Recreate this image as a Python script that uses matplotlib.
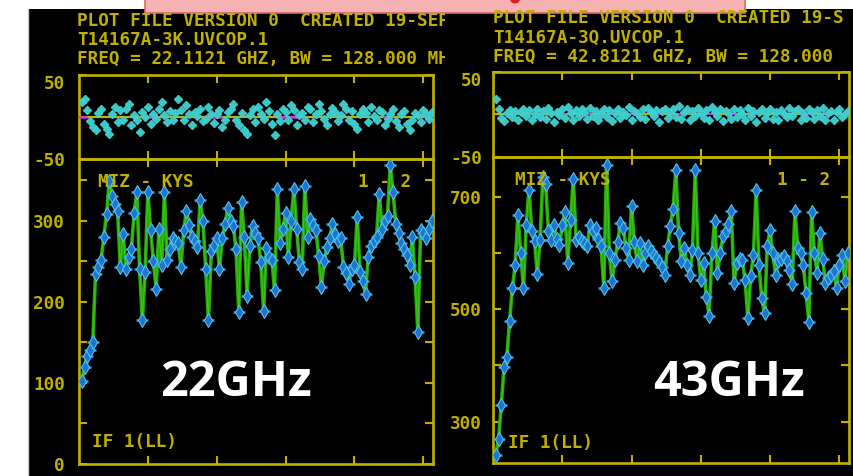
import matplotlib
matplotlib.use("Agg")
import matplotlib.pyplot as plt
from matplotlib.patches import Rectangle, Ellipse
from matplotlib.transforms import IdentityTransform, Bbox

W, H = 854, 476

# ---------------- data ----------------
channels = list(range(1, 129))
x_ticks = [25, 50, 75, 100, 125]

amp_22 = [
    102, 120, 133, 140, 150, 234, 243, 251, 280, 308, 349, 330, 320, 312, 243, 284,
    241, 255, 265, 309, 335, 240, 177, 237, 335, 288, 250, 216, 290, 245, 335, 251,
    265, 278, 275, 272, 243, 288, 312, 295, 280, 275, 268, 325, 300, 240, 177, 262,
    270, 278, 241, 278, 296, 315, 300, 294, 265, 188, 323, 280, 207, 269, 293, 285,
    278, 249, 189, 266, 255, 251, 214, 339, 272, 290, 309, 255, 300, 339, 290, 249,
    241, 343, 280, 302, 295, 288, 257, 218, 250, 268, 278, 296, 284, 275, 278, 243,
    235, 222, 241, 245, 305, 237, 225, 210, 255, 269, 275, 280, 333, 290, 300, 306,
    368, 335, 296, 285, 272, 265, 258, 245, 280, 230, 163, 288, 285, 278, 290, 300,
]
phase_22 = [
    18, 22, 8, -5, -12, -15, 5, 10, -8, -14, -20, 3, 12, -6, 8, -3,
    9, 15, -10, 2, -4, -18, 6, 0, 12, -8, 4, -2, 10, 18, 2, -6,
    7, -3, 5, 22, 8, -4, 14, 3, -10, 6, 1, 9, -5, -2, 12, 4,
    -7, 3, 8, -12, -4, 6, 10, 15, -3, -9, 5, -15, -20, 2, 9, -6,
    12, 4, -2, 18, 7, -8, -22, 3, -5, 10, 6, -3, 14, 8, -10, 2,
    5, -4, 12, 9, -6, 3, 15, 7, -2, -9, 4, 11, 6, -5, 2, 16,
    9, -3, 7, -8, -14, 3, 10, 5, -6, 12, 1, -4, 8, 6, -10, -2,
    4, 9, -5, -12, 3, 7, -8, -15, -3, 5, 2, -6, 8, 4, -2, 6,
]
model_22 = [1, 27, 50, 74, 77, 80, 112, 127]

amp_43 = [
    241, 268, 330, 397, 415, 480, 538, 579, 669, 600, 538, 651, 714, 640, 622, 563,
    624, 736, 723, 640, 624, 651, 625, 615, 650, 673, 583, 660, 732, 624, 630, 622,
    618, 613, 651, 640, 646, 625, 613, 538, 758, 600, 550, 588, 620, 655, 646, 610,
    588, 685, 620, 586, 619, 579, 600, 613, 605, 597, 592, 585, 575, 561, 613, 649,
    680, 749, 637, 586, 610, 580, 561, 606, 749, 600, 552, 583, 523, 489, 600, 658,
    565, 600, 631, 640, 653, 676, 547, 583, 590, 588, 552, 484, 560, 597, 713, 579,
    520, 493, 613, 642, 600, 561, 586, 590, 595, 586, 570, 545, 676, 610, 600, 579,
    530, 478, 673, 600, 565, 637, 590, 547, 556, 562, 568, 538, 580, 597, 550, 601,
]
phase_43 = [
    18, 6, -4, -8, 2, 5, -3, 4, -6, 3, 7, -2, 5, -7, 1, 6,
    -3, 4, -5, 8, 2, -9, 3, -1, 6, -4, 9, 2, -6, 5, -2, 7,
    3, -5, 8, -2, 4, -7, 1, 6, -3, 5, -8, 2, 7, -4, 3, -1,
    9, -6, 4, 2, -3, 7, -5, 8, 3, -2, 5, -9, 4, 6, -4, 2,
    7, -3, 10, -5, 3, 6, -7, 4, -2, 8, 2, -4, 5, -6, 9, 3,
    -2, 6, -8, 4, 2, -5, 7, -3, 5, 1, -6, 8, -2, 4, -9, 3,
    6, -4, 2, 7, -5, 3, -7, 5, 1, -3, 8, -2, 4, 6, -6, 2,
    -4, 7, 3, -5, 5, -2, 8, -6, 2, 4, -7, 3, 6, -3, 1, 4,
]
model_43 = [1, 2, 128]

header_22 = ["PLOT FILE VERSION 0  CREATED 19-SEP",
             "T14167A-3K.UVCOP.1",
             "FREQ = 22.1121 GHZ, BW = 128.000 MHZ"]
header_43 = ["PLOT FILE VERSION 0  CREATED 19-S",
             "T14167A-3Q.UVCOP.1",
             "FREQ = 42.8121 GHZ, BW = 128.000"]
baseline_label = "MIZ - KYS"
pair_label = "1 - 2"
if_label = "IF 1(LL)"
band_22 = "22GHz"
band_43 = "43GHz"

# ---------------- style ----------------
YEL = "#c0b000"
GREEN = "#24a808"
GREEN_HI = "#48d020"
CYAN = "#40d0d0"
BLUE = "#1f74cf"
MAG = "#d030e0"
MONO = dict(family="DejaVu Sans Mono", weight="bold", size=12.7, color=YEL)

fig = plt.figure(figsize=(W / 100, H / 100), dpi=100, facecolor="white")
PIX = IdentityTransform()


def fbox(x0, y0, x1, y1):
    return [x0 / W, 1 - y1 / H, (x1 - x0) / W, (y1 - y0) / H]


def ptext(x, y, s, clip=None, **kw):
    t = fig.text(x, H - y, s, transform=PIX, **kw)
    if clip is not None:
        x0, y0, x1, y1 = clip
        t.set_clip_box(Bbox.from_extents(x0, H - y1, x1, H - y0))
        t.set_clip_on(True)
    return t


# screen background (drawn beneath the axes)
fig.patches.append(Rectangle((29, 0), W - 29, H - 9, transform=PIX,
                             facecolor="black", edgecolor="none", zorder=-5))
fig.add_artist(plt.Line2D([28, 28], [0, H - 9], transform=PIX,
                          color="#c8c8c8", lw=1, zorder=-4))
fig.patches.append(Rectangle((145, H - 13), 600, 20, transform=PIX,
                             facecolor="#f6b2b2", edgecolor="#d86a6a",
                             lw=1.2, zorder=2))
fig.patches.append(Ellipse((515, H + 1), 10, 9, transform=PIX,
                           facecolor="#e02020", edgecolor="none", zorder=3))


def style_axes(ax, xlim, ylim, yticks, ylabels, pad):
    ax.set_facecolor("none")
    ax.set_xlim(*xlim)
    ax.set_ylim(*ylim)
    for sp in ax.spines.values():
        sp.set_color(YEL)
        sp.set_linewidth(1.9)
    ax.set_xticks(x_ticks)
    ax.set_yticks(yticks)
    ax.set_yticklabels(ylabels)
    ax.tick_params(direction="in", length=6, width=1.5, color=YEL,
                   top=True, right=True, labelbottom=False,
                   labelcolor=YEL, pad=pad)
    for lbl in ax.get_yticklabels():
        lbl.set_fontfamily("DejaVu Sans Mono")
        lbl.set_fontweight("bold")
        lbl.set_fontsize(12.7)


def draw_panel(boxes, amp, phase, model, amp_ylim, amp_ticks, amp_labels,
               pad, zero_style):
    ph_box, amp_box = boxes
    axp = fig.add_axes(fbox(*ph_box))
    axa = fig.add_axes(fbox(*amp_box))
    xlim = (0, 128.5)

    style_axes(axp, xlim, (-50, 50), [-50, 50], ["-50", "50"], pad)
    axp.get_yticklabels()[1].set_verticalalignment("top")
    if zero_style == "mixed":
        axp.axhline(0, color=MAG, lw=1.6, zorder=2)
        axp.axhline(0, color=YEL, lw=1.6, dashes=(6, 5), zorder=3)
    else:
        axp.axhline(0, color=YEL, lw=1.6, zorder=2)
        axp.plot(model, [0] * len(model), ls="none", marker="_", ms=7,
                 mew=1.8, color=MAG, zorder=3)
    axp.plot(channels, phase, ls="none", marker="D", ms=3.6,
             color=CYAN, alpha=0.9, zorder=4)
    axp.plot(channels, phase, ls="none", marker="+", ms=6, mew=1.0,
             color=CYAN, alpha=0.8, zorder=4)

    style_axes(axa, xlim, amp_ylim, amp_ticks, amp_labels, pad)
    axa.plot(channels, amp, color=GREEN, lw=2.6, zorder=2)
    axa.plot(channels, amp, color=GREEN_HI, lw=0.7, alpha=0.8, zorder=2)
    axa.plot(channels, amp, ls="none", marker="_", ms=9, mew=1.8,
             color="#3a9ae0", zorder=3)
    axa.plot(channels, amp, ls="none", marker="d", ms=7, mfc=BLUE,
             mec="#4cc4e8", mew=0.8, zorder=4)
    return axp, axa


draw_panel(((79, 75, 433, 159), (79, 159, 433, 464)),
           amp_22, phase_22, model_22, (0, 376),
           list(range(0, 376, 50)),
           ["0", "", "100", "", "200", "", "300", ""], 10, "plain")
draw_panel(((493, 72, 849, 157), (493, 157, 849, 463)),
           amp_43, phase_43, model_43, (226, 772),
           [300, 400, 500, 600, 700],
           ["300", "", "500", "", "700"], 8, "mixed")

# headers (left block is cut where the right block begins)
for line, yy in zip(header_22, (21, 40, 59)):
    ptext(77, yy, line, clip=(29, 9, 445, 70), ha="left", va="center",
          **MONO)
for line, yy in zip(header_43, (18, 38, 57)):
    ptext(493, yy, line, ha="left", va="center", **MONO)

# in-plot annotations
ptext(98, 182, baseline_label, ha="left", va="center", **MONO)
ptext(358, 182, pair_label, ha="left", va="center", **MONO)
ptext(92, 442, if_label, ha="left", va="center", **MONO)
ptext(515, 180, baseline_label, ha="left", va="center", **MONO)
ptext(777, 180, pair_label, ha="left", va="center", **MONO)
ptext(508, 443, if_label, ha="left", va="center", **MONO)

# band labels
BIG = dict(family="Open Sans", weight="bold", size=35, color="white",
           ha="center", va="center")
ptext(236, 384, band_22, **BIG)
ptext(729, 384, band_43, **BIG)

fig.savefig("out.png", dpi=100, facecolor="white")
